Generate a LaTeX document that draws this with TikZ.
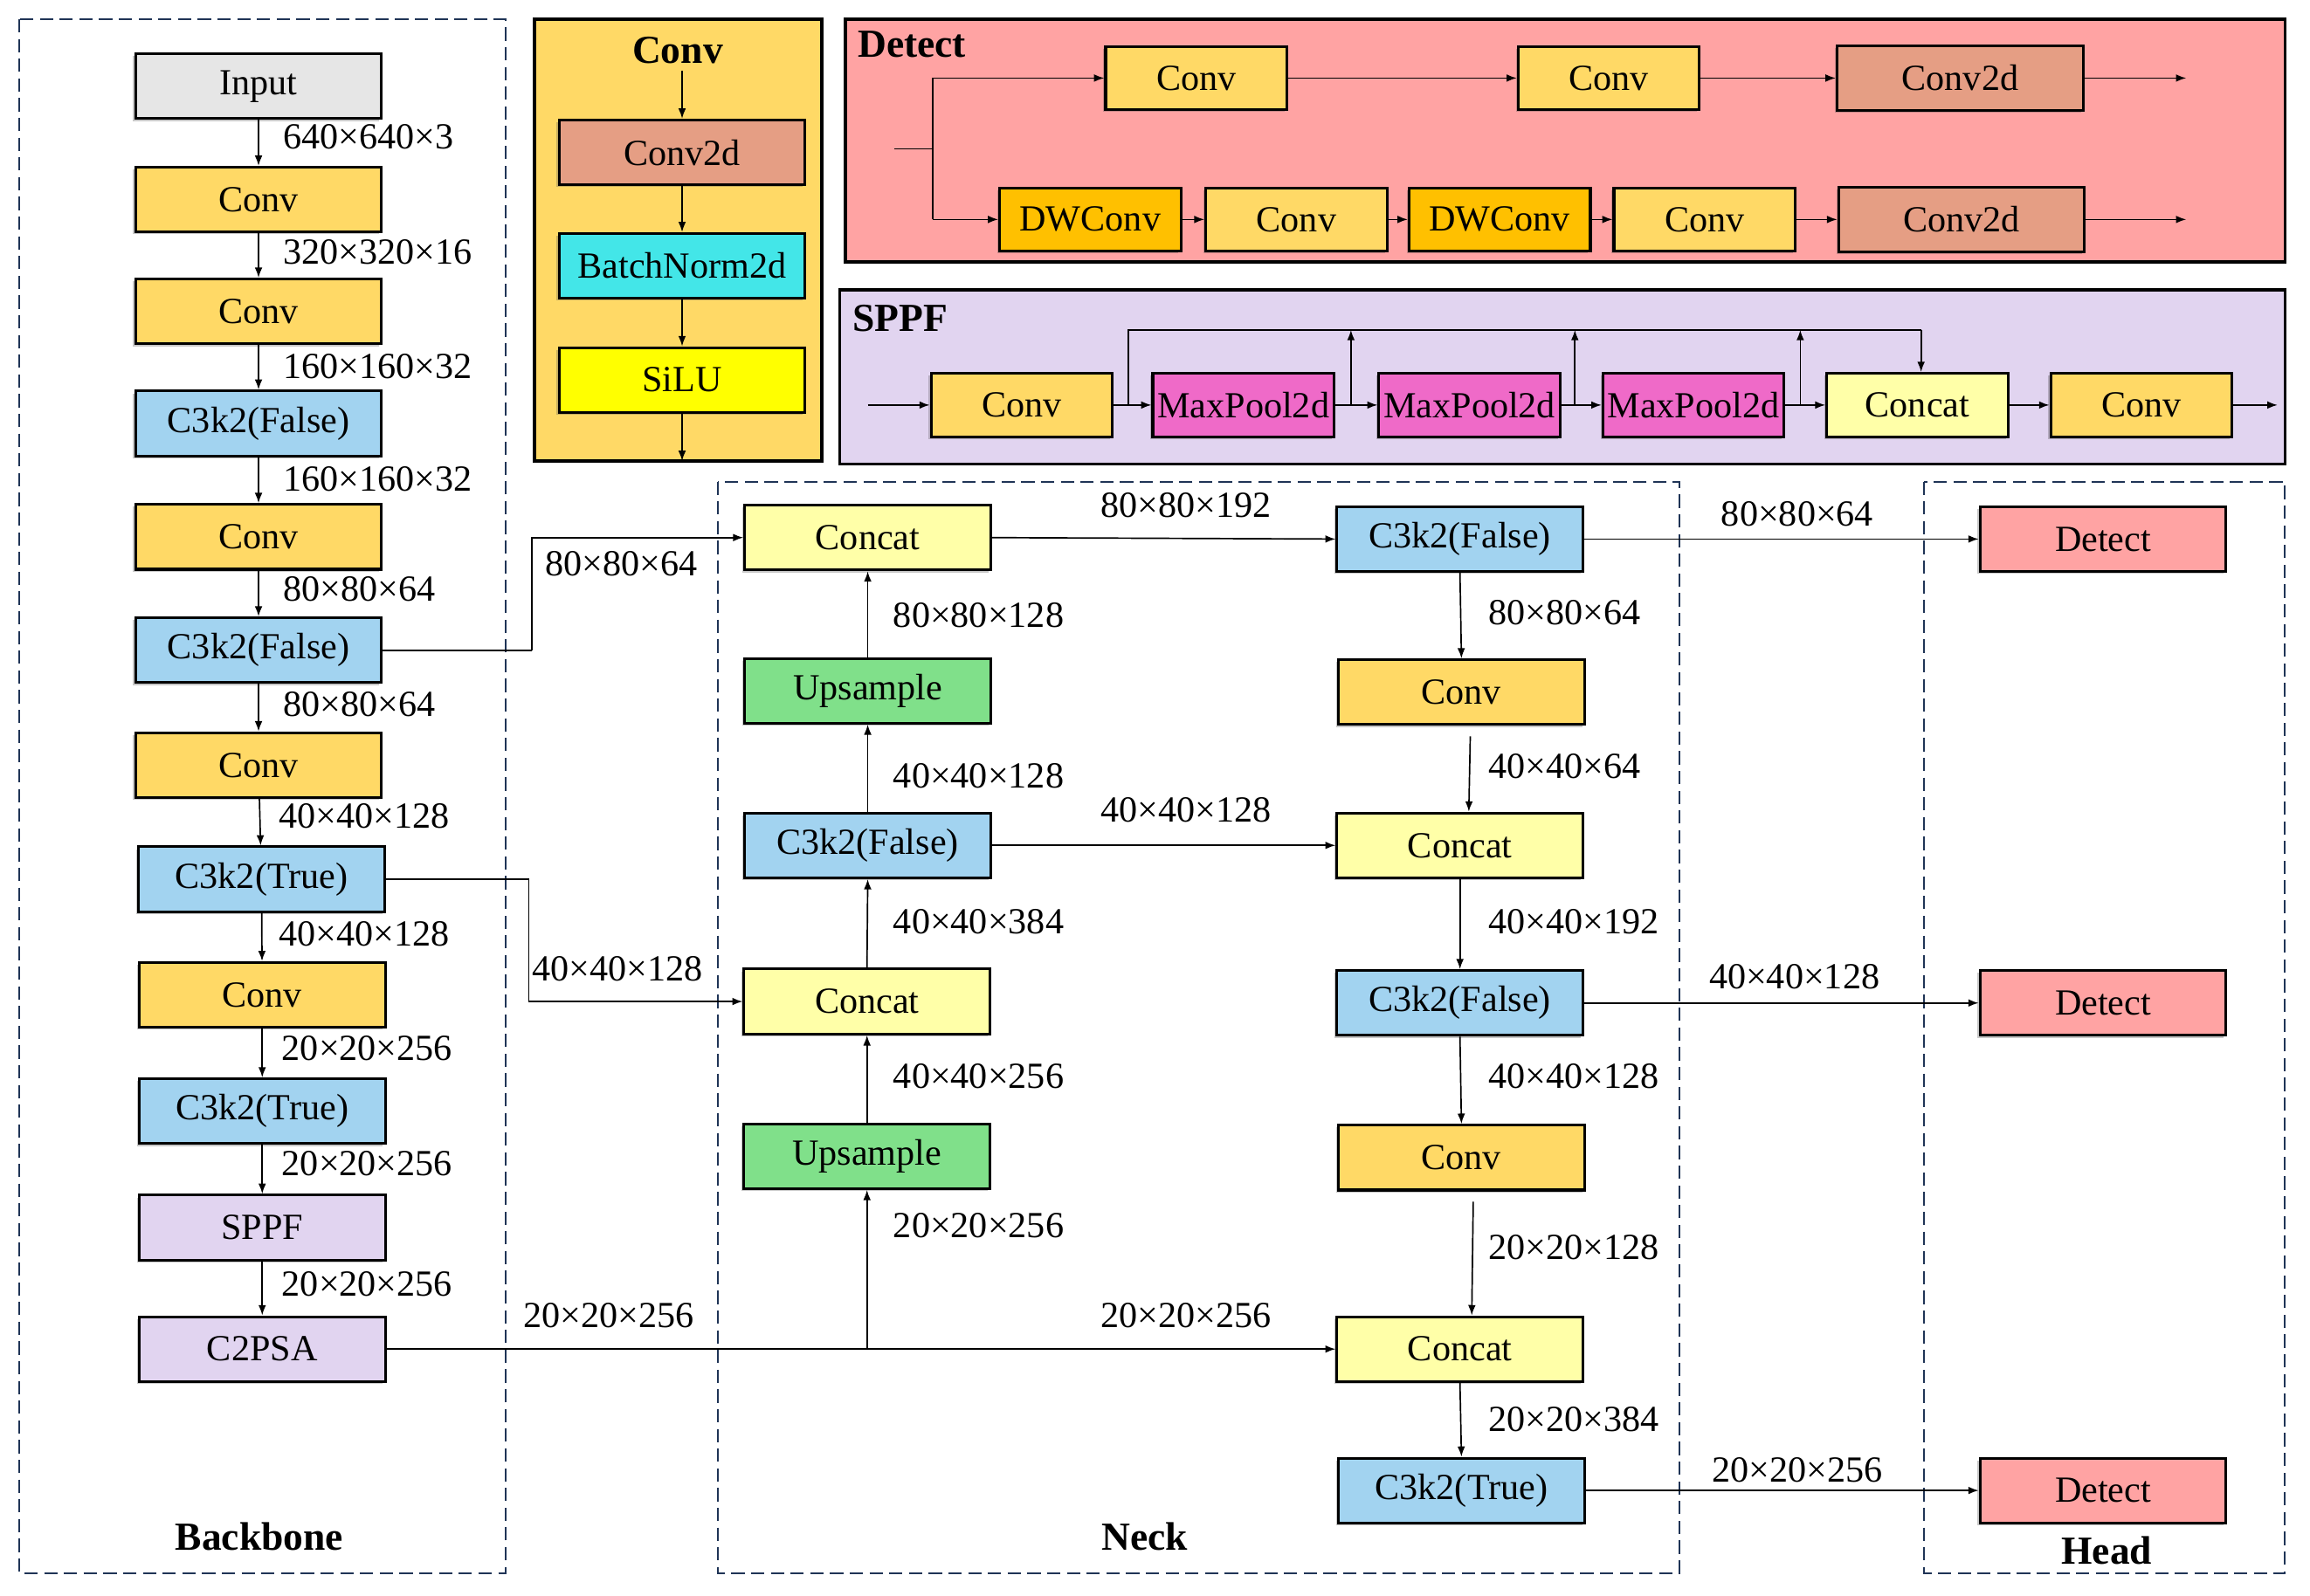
\documentclass[tikz,border=0pt]{standalone}
\usepackage{fontspec}
\setmainfont{Liberation Serif}
\usetikzlibrary{arrows.meta,shadows,calc}
\definecolor{cconv}{HTML}{FFD966}
\definecolor{cblue}{HTML}{A2D3F0}
\definecolor{cgreen}{HTML}{80E08A}
\definecolor{ccat}{HTML}{FFFFA8}
\definecolor{cdet}{HTML}{FFA3A3}
\definecolor{clav}{HTML}{E1D4F0}
\definecolor{cgrey}{HTML}{E6E6E6}
\definecolor{csalmon}{HTML}{E59E84}
\definecolor{ccyan}{HTML}{43E6E8}
\definecolor{cyel}{HTML}{FFFF00}
\definecolor{corange}{HTML}{FFC000}
\definecolor{cmag}{HTML}{EF6AC8}
\definecolor{cdash}{HTML}{1F3456}
\tikzset{
  blk/.style={draw=black, line width=0.9pt, inner sep=0pt, minimum width=83.5pt, minimum height=22pt,
    font=\fontsize{12.5}{14}\selectfont,
    drop shadow={shadow xshift=-0.8pt, shadow yshift=-0.8pt, opacity=0.3, fill=black!70}},
  sblk/.style={blk, minimum width=61.5pt, minimum height=21.5pt},
  lbl/.style={font=\fontsize{12.5}{14}\selectfont, inner sep=0pt},
  ttl/.style={font=\bfseries\fontsize{13.5}{15}\selectfont, inner sep=0pt},
  arr/.style={line width=0.5pt, -{Latex[length=3.5pt,width=2.6pt]}},
  ln/.style={line width=0.5pt},
  grp/.style={draw=cdash, line width=0.6pt, dash pattern=on 4.5pt off 2.2pt},
  panel/.style={draw=black, line width=1.1pt},
}
\begin{document}
\begin{tikzpicture}[x=0.5pt, y=-0.5pt]
\useasboundingbox (0,0) rectangle (1568,1083.1);
\fill[white] (0,0) rectangle (1568,1083.1);

% ---------- group frames ----------
\draw[grp] (13,13) rectangle (343,1068);
\draw[grp] (487,327) rectangle (1140,1068);
\draw[grp] (1306,327) rectangle (1551,1068);
\node[ttl] (tBack) at (176,1043) {Backbone};
\node[ttl] (tNeck) at (777,1043) {Neck};
\node[ttl] (tHead) at (1430,1053) {Head};

% ---------- Conv panel ----------
\draw[panel, fill=cconv] (363,13) rectangle (558,313);
\node[ttl] (tConv) at (460,34) {Conv};
\node[blk, fill=csalmon] (pc2d) at (463,103.5) {Conv2d};
\node[blk, fill=ccyan] (pbn) at (463,180.5) {BatchNorm2d};
\node[blk, fill=cyel] (psilu) at (463,258) {SiLU};
\coordinate (pin) at (463,48);
\coordinate (pout) at (463,313);
\draw[arr] (pin) -- (pc2d.north);
\draw[arr] (pc2d.south) -- (pbn.north);
\draw[arr] (pbn.south) -- (psilu.north);
\draw[arr] (psilu.south) -- (pout);

% ---------- Detect panel ----------
\draw[panel, fill=cdet] (574,13) rectangle (1551,178);
\node[ttl] (tDet) at (619,30) {Detect};
\node[sblk, fill=cconv] (dta) at (812,53) {Conv};
\node[sblk, fill=cconv] (dtb) at (1092,53) {Conv};
\node[blk, fill=csalmon] (dtc) at (1330.5,53) {Conv2d};
\node[sblk, fill=corange] (dba) at (740,149) {DWConv};
\node[sblk, fill=cconv] (dbb) at (880,149) {Conv};
\node[sblk, fill=corange] (dbc) at (1018,149) {DWConv};
\node[sblk, fill=cconv] (dbd) at (1157,149) {Conv};
\node[blk, fill=csalmon] (dbe) at (1331.5,149) {Conv2d};
\coordinate (dsrc) at (607,101);
\coordinate (dsplit) at (633,101);
\coordinate (dtop) at (633,53);
\coordinate (dbot) at (633,149);
\coordinate (douta) at (1484,53);
\coordinate (doutb) at (1484,149);
\draw[ln] (dsrc) -- (dsplit);
\draw[ln] (dtop) -- (dbot);
\draw[arr] (dtop) -- (dta.west);
\draw[arr] (dbot) -- (dba.west);
\draw[arr] (dta) -- (dtb);
\draw[arr] (dtb) -- (dtc);
\draw[arr] (dtc.east) -- (douta);
\draw[arr] (dba) -- (dbb);
\draw[arr] (dbb) -- (dbc);
\draw[arr] (dbc) -- (dbd);
\draw[arr] (dbd) -- (dbe);
\draw[arr] (dbe.east) -- (doutb);

% ---------- SPPF panel ----------
\draw[panel, fill=clav] (570,197) rectangle (1551,315);
\node[ttl] (tSppf) at (611,216) {SPPF};
\node[sblk, fill=cconv] (sa) at (693.5,275) {Conv};
\node[sblk, fill=cmag] (sb) at (844,275) {MaxPool2d};
\node[sblk, fill=cmag] (sc) at (997.5,275) {MaxPool2d};
\node[sblk, fill=cmag] (sd) at (1149.5,275) {MaxPool2d};
\node[sblk, fill=ccat] (se) at (1301.5,275) {Concat};
\node[sblk, fill=cconv] (sf) at (1453.5,275) {Conv};
\coordinate (sin) at (589,275);
\coordinate (sout) at (1546,275);
\draw[arr] (sin) -- (sa.west);
\draw[arr] (sa) -- (sb);
\draw[arr] (sb) -- (sc);
\draw[arr] (sc) -- (sd);
\draw[arr] (sd) -- (se);
\draw[arr] (se) -- (sf);
\draw[arr] (sf.east) -- (sout);
\coordinate (s0) at (766,275);
\coordinate (s0t) at (766,224);
\coordinate (s1) at (917,275);
\coordinate (s1t) at (917,224);
\coordinate (s2) at (1069,275);
\coordinate (s2t) at (1069,224);
\coordinate (s3) at (1222,275);
\coordinate (s3t) at (1222,224);
\coordinate (s4t) at (1304,224);
\draw[ln] (s0) -- (s0t) -- (s4t);
\draw[arr] (s4t) -- (s4t |- se.north);
\draw[arr] (s1) -- (s1t);
\draw[arr] (s2) -- (s2t);
\draw[arr] (s3) -- (s3t);

% ---------- Backbone ----------
\node[blk, fill=cgrey] (bin) at (175.5,58.5) {Input};
\node[blk, fill=cconv] (bc1) at (175.5,135.5) {Conv};
\node[blk, fill=cconv] (bc2) at (175.5,211.5) {Conv};
\node[blk, fill=cblue] (bk1) at (175.5,287.5) {C3k2(False)};
\node[blk, fill=cconv] (bc3) at (175.5,364.5) {Conv};
\node[blk, fill=cblue] (bk2) at (175.5,441.5) {C3k2(False)};
\node[blk, fill=cconv] (bc4) at (175.5,519.5) {Conv};
\node[blk, fill=cblue] (bk3) at (177.5,597) {C3k2(True)};
\node[blk, fill=cconv] (bc5) at (178,675.5) {Conv};
\node[blk, fill=cblue] (bk4) at (178,754.5) {C3k2(True)};
\node[blk, fill=clav] (bsp) at (178,833.5) {SPPF};
\node[blk, fill=clav] (bps) at (178,916) {C2PSA};
\draw[arr] (bin) -- (bc1);
\draw[arr] (bc1) -- (bc2);
\draw[arr] (bc2) -- (bk1);
\draw[arr] (bk1) -- (bc3);
\draw[arr] (bc3) -- (bk2);
\draw[arr] (bk2) -- (bc4);
\draw[arr] (bc4) -- (bk3);
\draw[arr] (bk3) -- (bc5);
\draw[arr] (bc5) -- (bk4);
\draw[arr] (bk4) -- (bsp);
\draw[arr] (bsp) -- (bps);
\node[lbl, anchor=west] (l01) at (192,93) {640×640×3};
\node[lbl, anchor=west] (l02) at (192,171) {320×320×16};
\node[lbl, anchor=west] (l03) at (192,248.5) {160×160×32};
\node[lbl, anchor=west] (l04) at (192,325) {160×160×32};
\node[lbl, anchor=west] (l05) at (192,400) {80×80×64};
\node[lbl, anchor=west] (l06) at (192,478) {80×80×64};
\node[lbl, anchor=west] (l07) at (189,554) {40×40×128};
\node[lbl, anchor=west] (l08) at (189,634) {40×40×128};
\node[lbl, anchor=west] (l09) at (191,712) {20×20×256};
\node[lbl, anchor=west] (l10) at (191,790) {20×20×256};
\node[lbl, anchor=west] (l11) at (191,872) {20×20×256};

% ---------- Neck ----------
\node[blk, fill=ccat] (na) at (589,365) {Concat};
\node[blk, fill=cgreen] (nb) at (589,469) {Upsample};
\node[blk, fill=cblue] (nc) at (589,574) {C3k2(False)};
\node[blk, fill=ccat] (nd) at (588.5,680) {Concat};
\node[blk, fill=cgreen] (ne) at (588.5,785) {Upsample};
\node[blk, fill=cblue] (ra) at (991,366) {C3k2(False)};
\node[blk, fill=cconv] (rb) at (992,470) {Conv};
\node[blk, fill=ccat] (rc) at (991,574) {Concat};
\node[blk, fill=cblue] (rd) at (991,681) {C3k2(False)};
\node[blk, fill=cconv] (re) at (992,786) {Conv};
\node[blk, fill=ccat] (rf) at (991,916) {Concat};
\node[blk, fill=cblue] (rg) at (992,1012) {C3k2(True)};

% backbone -> neck
\coordinate (j1) at (361,441.5);
\coordinate (j2) at (359,597);
\draw[ln] (bk2.east) -- (j1);
\draw[arr] (j1) |- (na.west);
\draw[ln] (bk3.east) -- (j2);
\draw[arr] (j2) |- (nd.west);
\draw[arr] (bps.east) -- (rf.west);
\coordinate (jb) at (ne.south |- bps.east);
\draw[arr] (jb) -- (ne.south);
\node[lbl, anchor=west] (s01) at (370,383) {80×80×64};
\node[lbl, anchor=west] (s02) at (361,658) {40×40×128};
\node[lbl, anchor=west] (s03) at (355,893) {20×20×256};

% neck left column
\draw[arr] (ne.north) -- (nd.south);
\draw[arr] (nd.north) -- (nc.south);
\draw[arr] (nc.north) -- (nb.south);
\draw[arr] (nb.north) -- (na.south);
\node[lbl, anchor=west] (n01) at (606,418) {80×80×128};
\node[lbl, anchor=west] (n02) at (606,527) {40×40×128};
\node[lbl, anchor=west] (n03) at (606,626) {40×40×384};
\node[lbl, anchor=west] (n04) at (606,731) {40×40×256};
\node[lbl, anchor=west] (n05) at (606,832) {20×20×256};

% neck horizontals
\draw[arr] (na.east) -- (ra.west);
\draw[arr] (nc.east) -- (rc.west);
\node[lbl] (m01) at (805,343) {80×80×192};
\node[lbl] (m02) at (805,550) {40×40×128};
\node[lbl] (m03) at (805,893) {20×20×256};

% neck right column
\draw[arr] (ra.south) -- (rb.north);
\draw[arr] ($(rb.south)+(6,7)$) -- ($(rc.north)+(6,0)$);
\draw[arr] (rc.south) -- (rd.north);
\draw[arr] (rd.south) -- (re.north);
\draw[arr] ($(re.south)+(8,7)$) -- ($(rf.north)+(8,0)$);
\draw[arr] (rf.south) -- (rg.north);
\node[lbl, anchor=west] (r01) at (1010,416) {80×80×64};
\node[lbl, anchor=west] (r02) at (1010,520) {40×40×64};
\node[lbl, anchor=west] (r03) at (1010,626) {40×40×192};
\node[lbl, anchor=west] (r04) at (1010,731) {40×40×128};
\node[lbl, anchor=west] (r05) at (1010,847) {20×20×128};
\node[lbl, anchor=west] (r06) at (1010,964) {20×20×384};

% ---------- Head ----------
\node[blk, fill=cdet] (ha) at (1427.5,366) {Detect};
\node[blk, fill=cdet] (hb) at (1427.5,681) {Detect};
\node[blk, fill=cdet] (hc) at (1427.5,1012) {Detect};
\draw[arr] (ra.east) -- (ha.west);
\draw[arr] (rd.east) -- (hb.west);
\draw[arr] (rg.east) -- (hc.west);
\node[lbl] (h01) at (1220,349) {80×80×64};
\node[lbl] (h02) at (1218,663) {40×40×128};
\node[lbl] (h03) at (1220,998) {20×20×256};
\end{tikzpicture}
\end{document}
